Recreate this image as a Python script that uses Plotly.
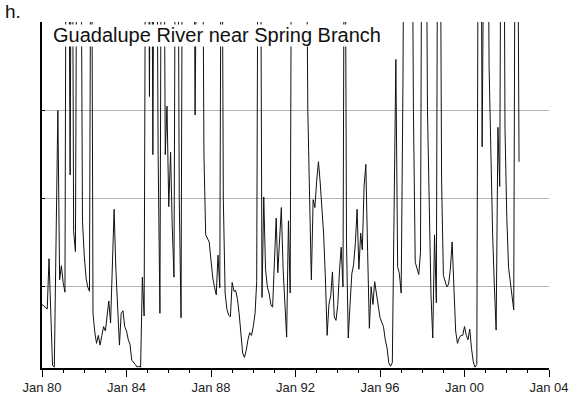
import pandas as pd
import plotly.graph_objects as go

# monthly values, Jan 1980 onward (gridlines sit at 1, 2, 3, 4)
y1980 = [0.80, 0.78, 0.76, 0.75, 1.32, 0.60, 0.11, 0.09, 1.6, 3.0, 1.08, 1.24]
y1981 = [1.05, 0.94, 7.5, 6.5, 2.27, 7.0, 1.63, 1.40, 6.8, 7.2, 6.0, 1.74]
y1982 = [1.35, 1.10, 1.0, 0.95, 7.0, 0.7, 0.49, 0.36, 0.45, 0.34, 0.45, 0.55]
y1983 = [0.5, 0.65, 0.84, 0.59, 1.2, 1.88, 1.2, 0.7, 0.34, 0.70, 0.73, 0.55]
y1984 = [0.5, 0.4, 0.35, 0.17, 0.15, 0.12, 0.09, 0.10, 0.09, 1.11, 0.67, 6.5]
y1985 = [7.0, 3.16, 7.5, 2.5, 7.0, 6.5, 2.5, 0.70, 7.0, 6.8, 2.5, 3.05]
y1986 = [1.91, 2.53, 1.7, 1.11, 6.5, 7.0, 2.0, 0.65, 7.0, 7.5, 8.0, 7.5]
y1987 = [7.0, 6.5, 6.8, 2.95, 7.0, 7.5, 7.0, 6.5, 2.5, 1.59, 1.55, 1.51]
y1988 = [1.3, 1.10, 1.0, 0.91, 1.36, 0.99, 7.0, 2.0, 0.93, 0.75, 0.68, 0.66]
y1989 = [1.05, 0.95, 0.96, 0.87, 0.7, 0.48, 0.25, 0.20, 0.28, 0.4, 0.48, 0.45]
y1990 = [0.55, 0.7, 1.06, 7.0, 6.5, 0.88, 2.02, 1.2, 1.0, 0.93, 0.8, 0.77]
y1991 = [1.2, 1.78, 1.16, 1.5, 1.9, 1.2, 0.8, 0.43, 1.75, 0.93, 7.0, 7.5]
y1992 = [8.0, 7.0, 6.5, 7.0, 7.5, 6.8, 6.0, 3.0, 2.0, 1.08, 1.99, 1.9]
y1993 = [2.2, 2.42, 2.2, 1.9, 1.6, 1.1, 0.45, 0.8, 0.9, 1.17, 0.66, 0.62]
y1994 = [0.8, 1.2, 1.45, 1.0, 7.0, 1.5, 0.42, 0.8, 1.15, 1.25, 1.5, 1.88]
y1995 = [1.2, 1.61, 1.42, 2.14, 2.39, 1.4, 0.53, 1.0, 0.8, 1.06, 0.9, 0.78]
y1996 = [0.65, 0.6, 0.55, 0.4, 0.31, 0.14, 0.10, 0.14, 1.8, 3.58, 1.23, 1.15]
y1997 = [0.93, 3.32, 7.0, 8.0, 7.5, 7.0, 6.5, 3.0, 1.28, 1.2, 1.14, 1.39]
y1998 = [7.0, 7.5, 6.5, 3.0, 1.8, 0.9, 0.42, 1.59, 0.82, 7.0, 6.5, 2.2]
y1999 = [1.13, 1.05, 1.0, 1.03, 1.2, 1.51, 0.92, 0.5, 0.36, 0.42, 0.45, 0.45]
y2000 = [0.55, 0.45, 0.4, 0.52, 0.3, 0.15, 0.09, 0.12, 7.0, 7.5, 2.59, 7.0]
y2001 = [8.0, 6.5, 3.5, 2.5, 1.6, 1.0, 0.51, 2.81, 2.14, 7.0, 7.5, 2.8]
y2002 = [1.8, 1.22, 1.05, 0.9, 0.74, 7.0, 6.5, 2.42]

flow = (y1980 + y1981 + y1982 + y1983 + y1984 + y1985 + y1986 + y1987 + y1988
        + y1989 + y1990 + y1991 + y1992 + y1993 + y1994 + y1995 + y1996 + y1997
        + y1998 + y1999 + y2000 + y2001 + y2002)
months = pd.date_range("1980-01-01", periods=len(flow), freq="MS")

title = "Guadalupe River near Spring Branch"
panel = "h."

fig = go.Figure()
fig.add_trace(go.Scatter(x=months, y=flow, mode="lines",
                         line=dict(color="#111111", width=1), showlegend=False))

fig.update_xaxes(range=["1980-01-01", "2004-01-01"],
                 tick0="1980-01-01", dtick="M48", tickformat="%b %y",
                 ticks="outside", ticklen=7, tickwidth=1.3, tickcolor="black",
                 minor=dict(dtick="M12", ticks="outside", ticklen=3, tickcolor="black", tickwidth=1),
                 showline=True, linecolor="black", linewidth=1.5,
                 showgrid=False, zeroline=False,
                 tickfont=dict(family="Liberation Sans, Arial", size=13, color="#222"))
fig.update_yaxes(range=[0.08, 4.005], tickvals=[1, 2, 3, 4], showticklabels=False,
                 ticks="inside", ticklen=3, tickcolor="black",
                 showline=True, linecolor="black", linewidth=1.5,
                 showgrid=True, gridcolor="#b4b4b4", gridwidth=1.2, zeroline=False)

# white box behind the title, hides the tops of the spikes
fig.add_shape(type="rect", xref="paper", yref="paper", x0=0.003, x1=0.676,
              y0=0.929, y1=0.9925, fillcolor="white", line_width=0, layer="above")
fig.add_annotation(text=title, xref="paper", yref="paper", x=0.0175, y=0.963,
                   xanchor="left", yanchor="middle", showarrow=False,
                   font=dict(family="Liberation Sans, Arial", size=20, color="#111"))
fig.add_annotation(text=panel, xref="paper", yref="paper", x=-0.076, y=1.031,
                   xanchor="left", yanchor="middle", showarrow=False,
                   font=dict(family="Liberation Sans, Arial", size=19, color="#111"))

fig.update_layout(width=580, height=407,
                  margin=dict(l=42, r=31, t=22, b=39, autoexpand=False),
                  plot_bgcolor="white", paper_bgcolor="white")

# page body has a default 8px margin; drop it so the figure sits at the corner
fig.write_html("out.html", config={"displayModeBar": False},
               post_script="document.body.style.margin='0';")
